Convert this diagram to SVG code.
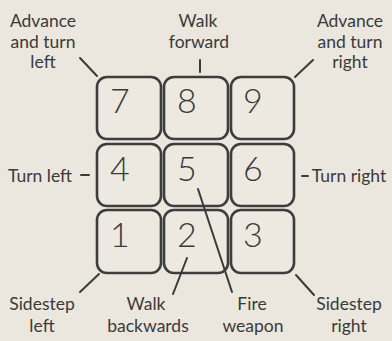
<svg xmlns="http://www.w3.org/2000/svg" width="392" height="341" viewBox="0 0 392 341">
<style>
.bg{fill:#ebe7de}
.key{fill:#ede9e1;stroke:#3d3d3d;stroke-width:2.6}
.dig{font-family:Lato,"Open Sans",sans-serif;font-size:34px;font-weight:300;fill:#3a3a3a}
.lbl{font-family:Lato,"Open Sans",sans-serif;font-size:17.5px;fill:#3a3a3a;text-anchor:middle}
.ln{stroke:#3a3a3a;stroke-width:2;fill:none;stroke-linecap:round}
</style>
<rect class="bg" x="0" y="0" width="392" height="341"/>
<g id="key7"><rect class="key" x="97" y="77" width="64" height="62" rx="10"/><text class="dig" x="110" y="113">7</text></g>
<g id="key8"><rect class="key" x="164" y="77" width="64" height="62" rx="10"/><text class="dig" x="177" y="113">8</text></g>
<g id="key9"><rect class="key" x="231" y="77" width="63" height="62" rx="10"/><text class="dig" x="243" y="113">9</text></g>
<g id="key4"><rect class="key" x="97" y="144" width="64" height="62" rx="10"/><text class="dig" x="110" y="181">4</text></g>
<g id="key5"><rect class="key" x="164" y="144" width="64" height="62" rx="10"/><text class="dig" x="177" y="181">5</text></g>
<g id="key6"><rect class="key" x="231" y="144" width="63" height="62" rx="10"/><text class="dig" x="243" y="181">6</text></g>
<g id="key1"><rect class="key" x="97" y="210" width="64" height="63" rx="10"/><text class="dig" x="110" y="247">1</text></g>
<g id="key2"><rect class="key" x="164" y="210" width="64" height="63" rx="10"/><text class="dig" x="177" y="247">2</text></g>
<g id="key3"><rect class="key" x="231" y="210" width="63" height="63" rx="10"/><text class="dig" x="243" y="247">3</text></g>
<g id="connectors">
<line class="ln" x1="80" y1="58" x2="97" y2="76"/>
<line class="ln" x1="200" y1="60" x2="200" y2="72"/>
<line class="ln" x1="313" y1="60" x2="295" y2="77"/>
<line class="ln" x1="81" y1="175" x2="89" y2="175"/>
<line class="ln" x1="302" y1="176" x2="308" y2="176"/>
<line class="ln" x1="80" y1="292" x2="99" y2="274"/>
<line class="ln" x1="187" y1="258" x2="173" y2="294"/>
<line class="ln" x1="198" y1="189" x2="232" y2="292"/>
<line class="ln" x1="296" y1="275" x2="314" y2="295"/>
</g>
<g id="labels">
<text class="lbl" x="43" y="27">Advance</text>
<text class="lbl" x="43" y="48">and turn</text>
<text class="lbl" x="43" y="68">left</text>
<text class="lbl" x="198" y="27">Walk</text>
<text class="lbl" x="199" y="48">forward</text>
<text class="lbl" x="350" y="27">Advance</text>
<text class="lbl" x="350" y="48">and turn</text>
<text class="lbl" x="350" y="68">right</text>
<text class="lbl" x="40" y="182">Turn left</text>
<text class="lbl" x="349" y="182">Turn right</text>
<text class="lbl" x="42" y="310">Sidestep</text>
<text class="lbl" x="42" y="332">left</text>
<text class="lbl" x="146" y="310">Walk</text>
<text class="lbl" x="148" y="332">backwards</text>
<text class="lbl" x="252" y="310">Fire</text>
<text class="lbl" x="253" y="332">weapon</text>
<text class="lbl" x="349" y="310">Sidestep</text>
<text class="lbl" x="349" y="332">right</text>
</g>
</svg>
